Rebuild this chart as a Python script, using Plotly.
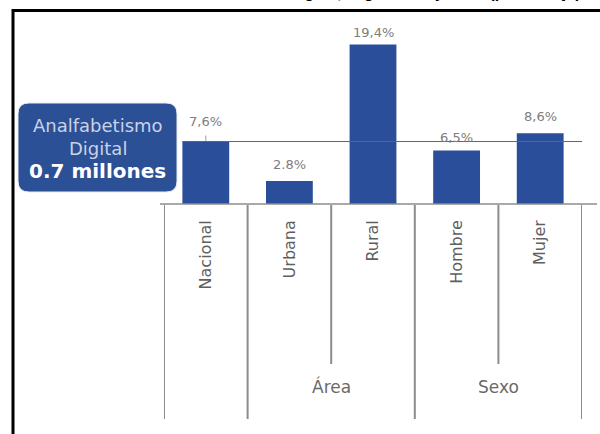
import plotly.graph_objects as go

# ---- data ----
categories = ["Nacional", "Urbana", "Rural", "Hombre", "Mujer"]
values = [7.6, 2.8, 19.4, 6.5, 8.6]
decimal_marks = [",", ".", ",", ",", ","]
group_names = ["Área", "Sexo"]
group_members = [["Urbana", "Rural"], ["Hombre", "Mujer"]]
total_millions = 0.7
title_text = "Perú: Población con analfabetismo digital, según área y sexo (porcentaje)"

# ---- layout geometry (pixels) ----
FIG_W, FIG_H = 600, 434
L, R, T, B = 164, 582, 23, 204
W, H = R - L, B - T
PX_PER_UNIT = 8.22
BAR_COLOR = "#2B4E9B"
BOX_COLOR = "#2C5096"
GRID_GRAY = "#8c8c8c"


def px(x):
    return (x - L) / W


def py(y):
    return (B - y) / H


fig = go.Figure(
    go.Bar(
        x=categories,
        y=values,
        width=0.56,
        marker=dict(color=BAR_COLOR, line=dict(width=0)),
        hoverinfo="skip",
    )
)

shapes = []
annotations = []

# value labels above the bars
label_lift = [11, 7, 3, 4, 7]
for i, (cat, v) in enumerate(zip(categories, values)):
    txt = f"{v:.1f}".replace(".", decimal_marks[i]) + "%"
    annotations.append(dict(
        x=cat, y=v, xref="x", yref="y", text=txt, showarrow=False,
        xanchor="center", yanchor="bottom", yshift=label_lift[i],
        font=dict(family="DejaVu Sans", size=13, color="#7d7d7d"),
    ))

# small leader under the national label
nat = values[0]
shapes.append(dict(type="line", xref="x", yref="y", x0=0, x1=0,
                   y0=nat, y1=nat + 6 / PX_PER_UNIT,
                   line=dict(color="#9a9a9a", width=1)))

# reference line at the national level
shapes.append(dict(type="line", xref="x", yref="y", x0=-0.28, x1=4.68,
                   y0=nat, y1=nat, layer="above",
                   line=dict(color="#66665a", width=1)))

# baseline
shapes.append(dict(type="line", xref="paper", yref="paper",
                   x0=px(160), x1=px(597), y0=py(204), y1=py(204),
                   line=dict(color=GRID_GRAY, width=1.5)))

# column separators: short inside a group, long elsewhere
idx = {c: i for i, c in enumerate(categories)}
inner = set()
for members in group_members:
    ids = sorted(idx[m] for m in members)
    for a, b in zip(ids[:-1], ids[1:]):
        inner.add((a + b) / 2)
for k in range(len(categories) + 1):
    xb = k - 0.5
    bottom = 364 if xb in inner else 419
    shapes.append(dict(type="line", xref="x", yref="paper", x0=xb, x1=xb,
                       y0=py(205), y1=py(bottom),
                       line=dict(color=GRID_GRAY, width=2)))

# group labels
for name, members in zip(group_names, group_members):
    center = sum(idx[m] for m in members) / len(members)
    annotations.append(dict(
        x=center, y=py(387), xref="x", yref="paper", text=name,
        showarrow=False, xanchor="center", yanchor="middle",
        font=dict(family="DejaVu Sans", size=17, color="#6a6a6a"),
    ))

# rounded summary box
x0, x1, y0, y1, r = 18, 177, 103, 192, 11
path = (
    f"M {px(x0 + r)},{py(y0)} L {px(x1 - r)},{py(y0)} "
    f"Q {px(x1)},{py(y0)} {px(x1)},{py(y0 + r)} "
    f"L {px(x1)},{py(y1 - r)} Q {px(x1)},{py(y1)} {px(x1 - r)},{py(y1)} "
    f"L {px(x0 + r)},{py(y1)} Q {px(x0)},{py(y1)} {px(x0)},{py(y1 - r)} "
    f"L {px(x0)},{py(y0 + r)} Q {px(x0)},{py(y0)} {px(x0 + r)},{py(y0)} Z"
)
shapes.append(dict(type="path", xref="paper", yref="paper", path=path,
                   fillcolor=BOX_COLOR, line=dict(color="#e6eaf2", width=1)))
cx = px((x0 + x1) / 2)
annotations.append(dict(x=cx, y=py(125), xref="paper", yref="paper",
                        text="Analfabetismo", showarrow=False,
                        xanchor="center", yanchor="middle",
                        font=dict(family="DejaVu Sans", size=18, color="#c9d2e6")))
annotations.append(dict(x=cx, y=py(148), xref="paper", yref="paper",
                        text="Digital", showarrow=False,
                        xanchor="center", yanchor="middle",
                        font=dict(family="DejaVu Sans", size=18, color="#c9d2e6")))
annotations.append(dict(x=cx, y=py(171), xref="paper", yref="paper",
                        text=f"<b>{total_millions:.1f} millones</b>", showarrow=False,
                        xanchor="center", yanchor="middle",
                        font=dict(family="DejaVu Sans", size=20, color="#ffffff")))

# frame
shapes.append(dict(type="path", xref="paper", yref="paper",
                   path=f"M {px(13)},{py(440)} L {px(13)},{py(10.5)} L {px(605)},{py(10.5)}",
                   line=dict(color="#000000", width=3)))

# title running above the frame
annotations.append(dict(x=px(300), y=py(2.7), xref="paper", yref="paper",
                        text=f"<b>{title_text}</b>", showarrow=False,
                        xanchor="center", yanchor="bottom",
                        font=dict(family="Liberation Sans", size=16, color="#000000")))

fig.update_layout(
    width=FIG_W, height=FIG_H,
    margin=dict(l=L, r=FIG_W - R, t=T, b=FIG_H - B, pad=0),
    paper_bgcolor="#ffffff", plot_bgcolor="#ffffff",
    showlegend=False,
    shapes=shapes, annotations=annotations,
    xaxis=dict(
        type="category", range=[-0.5, len(categories) - 0.5],
        showgrid=False, zeroline=False, showline=False, ticks="",
        tickangle=-90, ticklabelstandoff=12,
        tickfont=dict(family="DejaVu Sans", size=16, color="#5f5f5f"),
        automargin=False, fixedrange=True,
    ),
    yaxis=dict(
        range=[0, H / PX_PER_UNIT], visible=False, fixedrange=True,
    ),
)

fig.write_html("out.html", config={"displayModeBar": False})
